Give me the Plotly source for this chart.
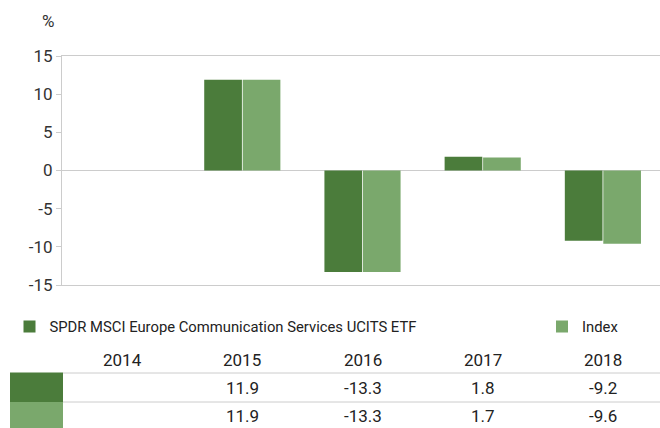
import plotly.graph_objects as go

years = ["2014", "2015", "2016", "2017", "2018"]
fund_name = "SPDR MSCI Europe Communication Services UCITS ETF"
index_name = "Index"
fund_values = [None, 11.9, -13.3, 1.8, -9.2]
index_values = [None, 11.9, -13.3, 1.7, -9.6]
y_tickvals = [15, 10, 5, 0, -5, -10, -15]
y_ticktext = ["15", "10", "5", "0", "-5", "-10", "-15"]

DARK = "#4b7c3b"
LIGHT = "#7aa86c"
TEXT = "#333333"
LINE = "#cccccc"
FONT = "Roboto"

W, H = 660, 428
L, R, T, B = 62, 0, 56, 143
ph = H - T - B


def py(pix):
    return (H - B - pix) / ph


def px(pix):
    return (pix - L) / (W - L - R)


fig = go.Figure()
fig.add_trace(go.Bar(x=years, y=fund_values, name=fund_name, legend="legend",
                     marker=dict(color=DARK, line=dict(width=0))))
fig.add_trace(go.Bar(x=years, y=index_values, name=index_name, legend="legend2",
                     marker=dict(color=LIGHT, line=dict(width=0))))

annotations = [dict(text="%", x=px(47.5), y=py(20.5), xref="paper", yref="paper", showarrow=False,
                    xanchor="center", yanchor="middle",
                    font=dict(size=17, color=TEXT, family=FONT))]


def fmt(v):
    return "" if v is None else f"{v:.1f}"


for i, yr in enumerate(years):
    for text, ypix in ((yr, 360), (fmt(fund_values[i]), 388), (fmt(index_values[i]), 416)):
        if text:
            annotations.append(dict(text=text, x=i, y=py(ypix), xref="x", yref="paper", showarrow=False,
                                    xanchor="center", yanchor="middle",
                                    font=dict(size=17, color="#222222", family=FONT)))

shapes = [
    dict(type="line", xref="paper", yref="paper", x0=px(63), x1=px(660), y0=py(373), y1=py(373),
         line=dict(color=LINE, width=1)),
    dict(type="line", xref="paper", yref="paper", x0=px(63), x1=px(660), y0=py(402), y1=py(402),
         line=dict(color=LINE, width=1)),
    dict(type="rect", xref="paper", yref="paper", x0=px(10), x1=px(63), y0=py(372.5), y1=py(402),
         fillcolor=DARK, line=dict(width=0)),
    dict(type="rect", xref="paper", yref="paper", x0=px(10), x1=px(63), y0=py(402), y1=py(430),
         fillcolor=LIGHT, line=dict(width=0)),
]

legend_common = dict(orientation="h", xref="container", yref="container", y=1 - 327 / H,
                     xanchor="left", yanchor="middle", font=dict(size=14.8, color="#222222", family=FONT),
                     bgcolor="rgba(0,0,0,0)", borderwidth=0)

fig.update_layout(
    width=W, height=H,
    margin=dict(l=L, r=R, t=T, b=B, pad=0, autoexpand=False),
    paper_bgcolor="white", plot_bgcolor="white",
    barmode="group", bargap=0.36, bargroupgap=0.02,
    font=dict(family=FONT, size=17, color=TEXT),
    showlegend=True,
    legend=dict(x=9.5 / W, **legend_common),
    legend2=dict(x=542 / W, **legend_common),
    annotations=annotations,
    shapes=shapes,
    xaxis=dict(type="category", range=[-0.5, 4.475], showticklabels=False, showgrid=False, zeroline=False,
               showline=True, mirror=True, linecolor=LINE, linewidth=1, ticks="", fixedrange=True,
               automargin=False),
    yaxis=dict(range=[-15, 15], tickvals=y_tickvals, ticktext=y_ticktext, showgrid=False, zeroline=True,
               zerolinecolor=LINE, zerolinewidth=1, showline=True, linecolor=LINE, linewidth=1,
               ticks="outside", ticklen=5, tickcolor=LINE, tickfont=dict(size=17, color=TEXT, family=FONT),
               fixedrange=True, automargin=False),
)

fig.write_html("out.html", config={"displayModeBar": False},
               post_script="document.body.style.margin='0';document.body.style.overflow='hidden';")
